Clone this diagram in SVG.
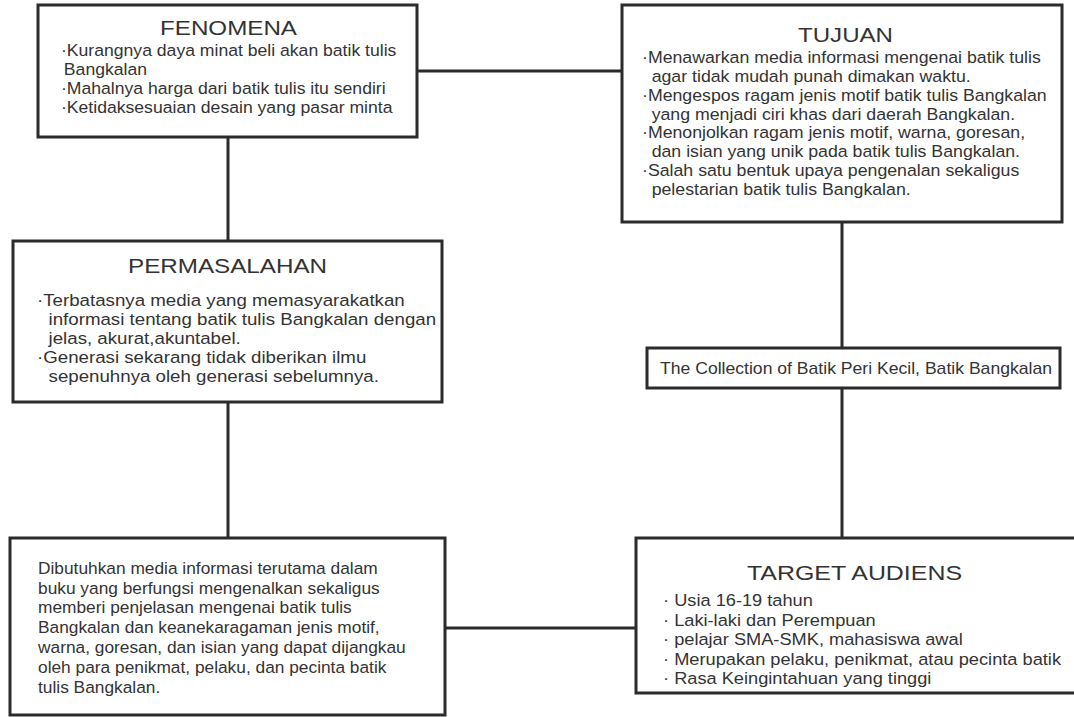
<svg xmlns="http://www.w3.org/2000/svg" width="1074" height="717" viewBox="0 0 1074 717">
<style>
.box{fill:#fff;stroke:#2b2b2b;stroke-width:3}
.conn{fill:none;stroke:#2b2b2b;stroke-width:3}
.t{font-family:"Liberation Sans",Arial,Helvetica,sans-serif;fill:#333}
.title{font-size:21px}
</style>
<rect x="0" y="0" width="1074" height="717" fill="#fff"/>
<g id="connectors">
<line class="conn" x1="417" y1="71" x2="622" y2="71"/>
<line class="conn" x1="228" y1="137" x2="228" y2="241"/>
<line class="conn" x1="228" y1="402" x2="228" y2="538"/>
<line class="conn" x1="842" y1="222" x2="842" y2="348"/>
<line class="conn" x1="842" y1="388" x2="842" y2="538"/>
<line class="conn" x1="445" y1="628" x2="636" y2="628"/>
</g>
<g id="fenomena">
<rect class="box" x="38" y="5" width="379" height="132"/>
<text class="t title" x="160" y="35" textLength="137" lengthAdjust="spacingAndGlyphs">FENOMENA</text>
<g class="t" font-size="16.5" transform="translate(61 0) scale(1.067 1)">
<text y="56">·Kurangnya daya minat beli akan batik tulis</text>
<text x="2.7" y="75">Bangkalan</text>
<text y="94">·Mahalnya harga dari batik tulis itu sendiri</text>
<text y="113">·Ketidaksesuaian desain yang pasar minta</text>
</g>
</g>
<g id="tujuan">
<rect class="box" x="622" y="5" width="440" height="217"/>
<text class="t title" x="798" y="42" textLength="95" lengthAdjust="spacingAndGlyphs">TUJUAN</text>
<g class="t" font-size="16.5" transform="translate(642 0) scale(1.075 1)">
<text y="63">·Menawarkan media informasi mengenai batik tulis</text>
<text x="9" y="82">agar tidak mudah punah dimakan waktu.</text>
<text y="101">·Mengespos ragam jenis motif batik tulis Bangkalan</text>
<text x="9" y="120">yang menjadi ciri khas dari daerah Bangkalan.</text>
<text y="138">·Menonjolkan ragam jenis motif, warna, goresan,</text>
<text x="9" y="157">dan isian yang unik pada batik tulis Bangkalan.</text>
<text y="176">·Salah satu bentuk upaya pengenalan sekaligus</text>
<text x="9" y="195">pelestarian batik tulis Bangkalan.</text>
</g>
</g>
<g id="permasalahan">
<rect class="box" x="13" y="241" width="429" height="161"/>
<text class="t title" x="128" y="273" textLength="199" lengthAdjust="spacingAndGlyphs">PERMASALAHAN</text>
<g class="t" font-size="17" transform="translate(37 0) scale(1.1 1)">
<text y="306">·Terbatasnya media yang memasyarakatkan</text>
<text x="10.5" y="325">informasi tentang batik tulis Bangkalan dengan</text>
<text x="10.5" y="344">jelas, akurat,akuntabel.</text>
<text y="363">·Generasi sekarang tidak diberikan ilmu</text>
<text x="10.5" y="382">sepenuhnya oleh generasi sebelumnya.</text>
</g>
</g>
<g id="collection">
<rect class="box" x="647" y="348" width="413" height="40"/>
<text class="t" font-size="17" x="660" y="374" textLength="392" lengthAdjust="spacingAndGlyphs">The Collection of Batik Peri Kecil, Batik Bangkalan</text>
</g>
<g id="kebutuhan">
<rect class="box" x="10" y="538" width="435" height="177"/>
<g class="t" font-size="16.5" transform="translate(38 0) scale(1.05 1)">
<text y="574">Dibutuhkan media informasi terutama dalam</text>
<text y="594">buku yang berfungsi mengenalkan sekaligus</text>
<text y="613">memberi penjelasan mengenai batik tulis</text>
<text y="633">Bangkalan dan keanekaragaman jenis motif,</text>
<text y="653">warna, goresan, dan isian yang dapat dijangkau</text>
<text y="673">oleh para penikmat, pelaku, dan pecinta batik</text>
<text y="693">tulis Bangkalan.</text>
</g>
</g>
<g id="target-audiens">
<rect class="box" x="636" y="538" width="450" height="155"/>
<text class="t title" x="747" y="580" textLength="215" lengthAdjust="spacingAndGlyphs">TARGET AUDIENS</text>
<g class="t" font-size="16.5" transform="translate(663 0) scale(1.105 1)">
<text y="606">· Usia 16-19 tahun</text>
<text y="626">· Laki-laki dan Perempuan</text>
<text y="645">· pelajar SMA-SMK, mahasiswa awal</text>
<text y="665">· Merupakan pelaku, penikmat, atau pecinta batik</text>
<text y="684">· Rasa Keingintahuan yang tinggi</text>
</g>
</g>
</svg>
